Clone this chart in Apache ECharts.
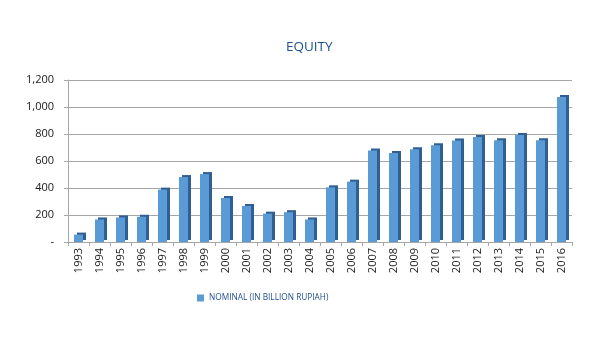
<!DOCTYPE html>
<html><head><meta charset="utf-8">
<script src="https://cdn.jsdelivr.net/npm/echarts@6/dist/echarts.min.js"></script>
<style>html,body{margin:0;padding:0;background:#fff}#c{width:604px;height:357px}</style>
</head><body><div id="c"></div>
<script>
const years = ['1993','1994','1995','1996','1997','1998','1999','2000','2001','2002','2003','2004','2005','2006','2007','2008','2009','2010','2011','2012','2013','2014','2015','2016'];
const nominal = [55,167,182,187,388,481,503,326,267,210,221,167,405,447,677,660,687,716,751,778,753,793,753,1075];
const yTicks = [0,200,400,600,800,1000,1200];
const seriesName = 'NOMINAL (IN BILLION RUPIAH)';

const chart = echarts.init(document.getElementById('c'));
chart.setOption({
  backgroundColor: '#ffffff',
  animation: false,
  title: {
    text: 'EQUITY', left: 281, top: 35,
    textStyle: {fontFamily: 'Open Sans', fontSize: 13.5, fontWeight: 'normal', color: '#1f4e8c'}
  },
  legend: {
    data: [seriesName], left: 192, top: 289, itemWidth: 7, itemHeight: 7, itemGap: 5,
    icon: 'rect',
    textStyle: {fontFamily: 'Open Sans', fontSize: 8.3, color: '#1f4e8c'}
  },
  grid: {left: 68, right: 32, top: 80, bottom: 115},
  xAxis: {
    type: 'category', data: years,
    axisLine: {lineStyle: {color: '#a6a6a6'}},
    axisTick: {show: true, lineStyle: {color: '#a6a6a6'}, length: 4},
    axisLabel: {rotate: 90, fontFamily: 'Open Sans', fontSize: 11, color: '#1a1a1a', margin: 6}
  },
  yAxis: {
    type: 'value', min: yTicks[0], max: yTicks[yTicks.length-1], interval: 200,
    axisLine: {show: true, lineStyle: {color: '#a6a6a6'}},
    axisTick: {show: true, lineStyle: {color: '#a6a6a6'}, length: 4},
    splitLine: {lineStyle: {color: '#a6a6a6', width: 1}},
    axisLabel: {
      fontFamily: 'Open Sans', fontSize: 11, color: '#1a1a1a', margin: 14,
      formatter: v => v === 0 ? '-' : v.toLocaleString('en-US')
    }
  },
  series: [{
    name: seriesName, type: 'bar', data: nominal, barWidth: 9,
    itemStyle: {
      color: '#5b9bd5',
      shadowColor: '#2f5f93', shadowOffsetX: 3, shadowOffsetY: -2, shadowBlur: 0
    }
  }]
});
</script></body></html>
